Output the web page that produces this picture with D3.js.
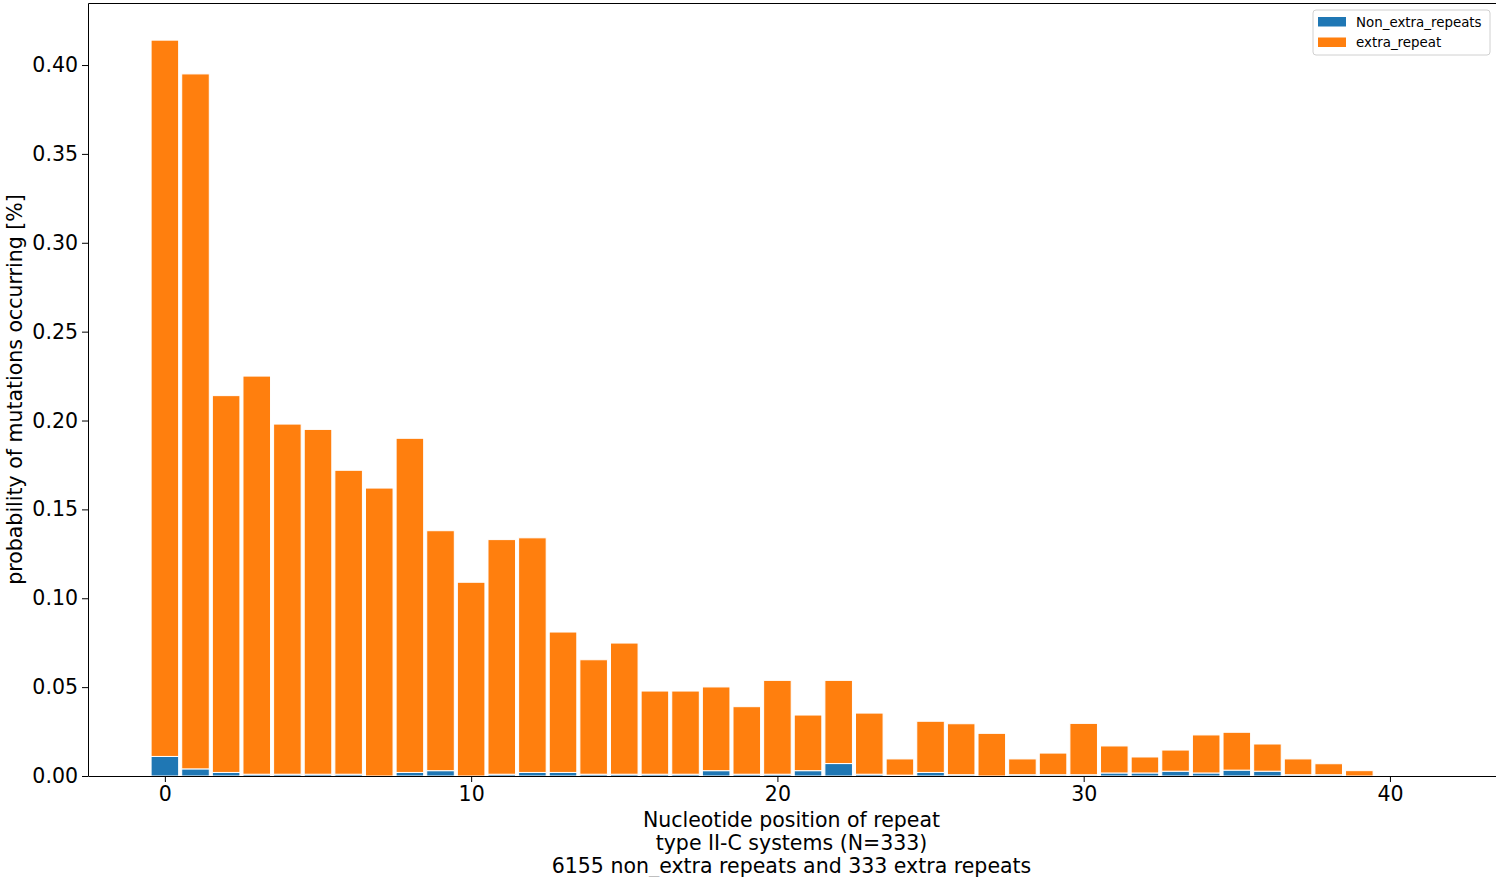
<!DOCTYPE html>
<html>
<head>
<meta charset="utf-8">
<script src="https://cdn.jsdelivr.net/npm/d3@7"></script>
<style>
  html, body { margin: 0; padding: 0; background: #fff; }
  svg { display: block; font-family: "DejaVu Sans", sans-serif; }
</style>
</head>
<body>
<svg id="chart" width="1496" height="877"></svg>
<script>
// ---- data ----
const positions = d3.range(0, 40);
const nonExtraRepeats = [0.011, 0.004, 0.002, 0.001, 0.001, 0.001, 0.001, 0.000, 0.002, 0.003,
                         0.000, 0.001, 0.002, 0.002, 0.001, 0.001, 0.001, 0.001, 0.003, 0.001,
                         0.001, 0.003, 0.007, 0.001, 0.0005, 0.002, 0.0007, 0.000, 0.0007, 0.0007,
                         0.0007, 0.0017, 0.0017, 0.0027, 0.0017, 0.0033, 0.0027, 0.0007, 0.0007, 0.000];
const totals = [0.414, 0.395, 0.214, 0.225, 0.198, 0.195, 0.172, 0.162, 0.190, 0.138,
                0.109, 0.133, 0.134, 0.081, 0.0654, 0.0748, 0.0478, 0.0478, 0.0501, 0.039,
                0.0538, 0.0343, 0.0538, 0.0354, 0.0096, 0.0308, 0.0294, 0.024, 0.0096, 0.0129,
                0.0296, 0.0169, 0.0107, 0.0146, 0.0231, 0.0246, 0.018, 0.0096, 0.0069, 0.003];
const extraRepeat = totals.map((t, i) => +(t - nonExtraRepeats[i]).toFixed(4));
const seriesNames = ["Non_extra_repeats", "extra_repeat"];
const seriesColors = ["#1f77b4", "#ff7f0e"];
const yTicks = [0.00, 0.05, 0.10, 0.15, 0.20, 0.25, 0.30, 0.35, 0.40];
const xTicks = [0, 10, 20, 30, 40];
const xLabelLines = ["Nucleotide position of repeat", "type II-C systems (N=333)", "6155 non_extra repeats and 333 extra repeats"];
const yLabel = "probability of mutations occurring [%]";

// ---- layout ----
const svg = d3.select("#chart");
const L = 88, R = 1495, T = 3, B = 776;
const FS = 20.5;
const x = d3.scaleLinear().domain([-2.51, 43.43]).range([L, R]);
const y = d3.scaleLinear().domain([0, 0.4349]).range([B, T]);
const barW = 0.9;

const rows = positions.map((p, i) => ({pos: p, Non_extra_repeats: nonExtraRepeats[i], extra_repeat: extraRepeat[i]}));
const stacked = d3.stack().keys(seriesNames)(rows);

const g = svg.append("g");
stacked.forEach((layer, li) => {
  g.append("g").selectAll("rect").data(layer).join("rect")
    .attr("x", d => x(d.data.pos - barW / 2))
    .attr("width", d => x(barW) - x(0))
    .attr("y", d => y(d[1]))
    .attr("height", d => Math.max(0, y(d[0]) - y(d[1])))
    .attr("fill", seriesColors[li])
    .attr("stroke", "#fff")
    .attr("stroke-width", 1);
});

// axes
const xAxis = d3.axisBottom(x).tickValues(xTicks).tickFormat(d3.format("d")).tickSize(6).tickPadding(4);
const yAxis = d3.axisLeft(y).tickValues(yTicks).tickFormat(d3.format(".2f")).tickSize(6).tickPadding(4);
const gx = svg.append("g").attr("transform", `translate(0,${B})`).call(xAxis);
const gy = svg.append("g").attr("transform", `translate(${L},0)`).call(yAxis);
[gx, gy].forEach(a => {
  a.select(".domain").remove();
  a.selectAll("text").attr("font-size", FS).attr("font-family", "DejaVu Sans").attr("fill", "#000");
  a.selectAll("line").attr("stroke", "#000").attr("stroke-width", 1);
});

// spines (right spine falls outside the picture)
svg.append("path")
  .attr("d", `M${R + 3},${T + 0.5}H${L + 0.5}V${B + 0.5}H${R + 3}`)
  .attr("fill", "none").attr("stroke", "#000").attr("stroke-width", 1);

// labels
const xl = svg.append("text").attr("text-anchor", "middle").attr("font-size", FS).attr("fill", "#000");
xLabelLines.forEach((t, i) => {
  xl.append("tspan").attr("x", (L + R) / 2).attr("y", 827 + i * 23).text(t);
});
svg.append("text").attr("transform", `translate(22,${(T + B) / 2}) rotate(-90)`)
  .attr("text-anchor", "middle").attr("font-size", FS).attr("fill", "#000").text(yLabel);

// legend
const lg = svg.append("g").attr("transform", "translate(1313,10)");
lg.append("rect").attr("width", 177).attr("height", 45).attr("rx", 3)
  .attr("fill", "#fff").attr("fill-opacity", 0.8).attr("stroke", "#d0d0d0");
seriesNames.forEach((n, i) => {
  lg.append("rect").attr("x", 5).attr("y", 7 + i * 20.5).attr("width", 28).attr("height", 9.5).attr("fill", seriesColors[i]);
  lg.append("text").attr("x", 43).attr("y", 16.5 + i * 20.5).attr("font-size", 13.4).attr("fill", "#000").text(n);
});
</script>
</body>
</html>
